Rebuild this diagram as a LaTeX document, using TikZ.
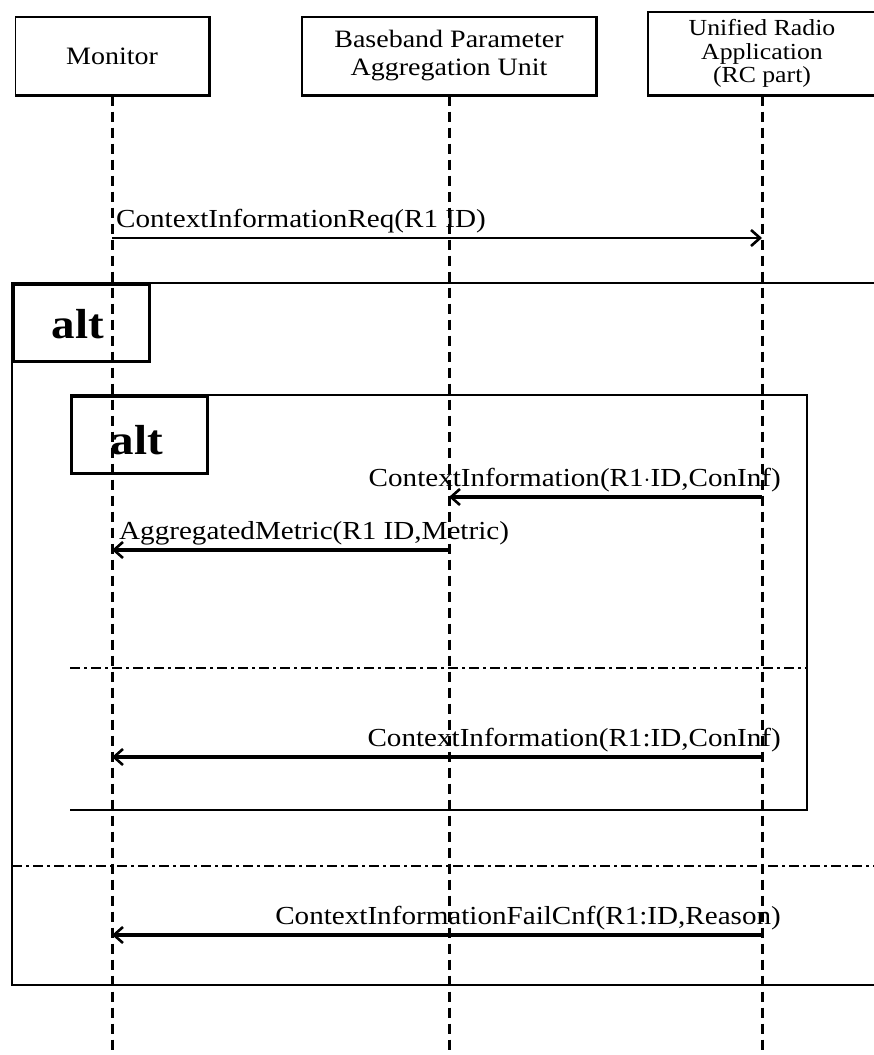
\documentclass[tikz,border=0pt]{standalone}
\usepackage{fontspec}
\setmainfont[FakeStretch=1.12]{Liberation Serif}
\usetikzlibrary{positioning,arrows.meta}

\tikzset{
  headbox/.style={draw, line width=1.4pt, align=center, inner sep=0pt,
    font=\fontsize{25}{28}\selectfont},
  lifeline/.style={line width=3pt, dash pattern=on 10pt off 6pt},
  msg/.style={line width=3.4pt, -{Straight Barb[length=9pt,width=16pt,line width=2.6pt]}},
  msglabel/.style={inner sep=1pt, font=\fontsize{26}{30}\selectfont},
  frame/.style={line width=2.6pt},
  altsep/.style={line width=2.4pt, dash pattern=on 10pt off 4pt on 3pt off 4pt},
  alttab/.style={draw, line width=2.6pt, minimum width=136pt, minimum height=77pt,
    inner sep=0pt},
  altlabel/.style={font=\fontsize{42}{46}\selectfont\bfseries}
}

\begin{document}
\begin{tikzpicture}[x=1pt,y=-1pt]
\useasboundingbox (0,0) rectangle (874,1055);

% heads
\node[headbox, minimum width=193pt, minimum height=78pt] (mon) at (112,56) {Monitor};
\node[headbox, minimum width=294pt, minimum height=78pt] (bpau) at (449,56)
  {Baseband Parameter\\Aggregation Unit};
\node[headbox, minimum width=228pt, minimum height=83pt,
  font=\fontsize{23}{23.5}\selectfont] (ura) at (762,53.5)
  {Unified Radio\\Application\\(RC part)};
\foreach \h in {mon,bpau,ura}
  \draw[line width=3.4pt] (\h.north east) -- (\h.south east) -- (\h.south west);

% lifelines
\coordinate (monend) at (112,1055);
\coordinate (bpauend) at (449,1055);
\coordinate (uraend) at (762,1055);
\draw[lifeline] (mon.south) -- (monend);
\draw[lifeline] (bpau.south) -- (bpauend);
\draw[lifeline] (ura.south) -- (uraend);

% request
\coordinate (req1) at (112,238);
\coordinate (req2) at (762,238);
\draw[msg, line width=2.4pt] (req1) -- (req2);
\node[msglabel, anchor=south west] (reql) at (115,234) {ContextInformationReq(R1 ID)};

% outer alt
\draw[frame] (876,283) -- (12,283) -- (12,985) -- (876,985);
\node[alttab, anchor=north west] (alt1) at (12,283) {};
\node[altlabel] (alt1l) at (78,324) {alt};
\draw[altsep] (12,866) -- (876,866);

% inner alt
\draw[frame] (70,395) -- (807,395) -- (807,810) -- (70,810);
\node[alttab, anchor=north west] (alt2) at (70,395) {};
\node[altlabel] (alt2l) at (137,440) {alt};
\draw[altsep] (70,668) -- (807,668);

% replies
\coordinate (ci1a) at (762,497);
\coordinate (ci1b) at (449,497);
\draw[msg] (ci1a) -- (ci1b);
\node[msglabel, anchor=south east] (ci1l) at (782,493) {ContextInformation(R1$\cdot$ID,ConInf)};

\coordinate (agg1) at (449,550);
\coordinate (agg2) at (112,550);
\draw[msg] (agg1) -- (agg2);
\node[msglabel, anchor=south west] (aggl) at (118,546) {AggregatedMetric(R1 ID,Metric)};

\coordinate (ci2a) at (762,757);
\coordinate (ci2b) at (112,757);
\draw[msg] (ci2a) -- (ci2b);
\node[msglabel, anchor=south east] (ci2l) at (782,753) {ContextInformation(R1:ID,ConInf)};

\coordinate (fail1) at (762,935);
\coordinate (fail2) at (112,935);
\draw[msg] (fail1) -- (fail2);
\node[msglabel, anchor=south east] (faill) at (782,931) {ContextInformationFailCnf(R1:ID,Reason)};
\end{tikzpicture}
\end{document}
